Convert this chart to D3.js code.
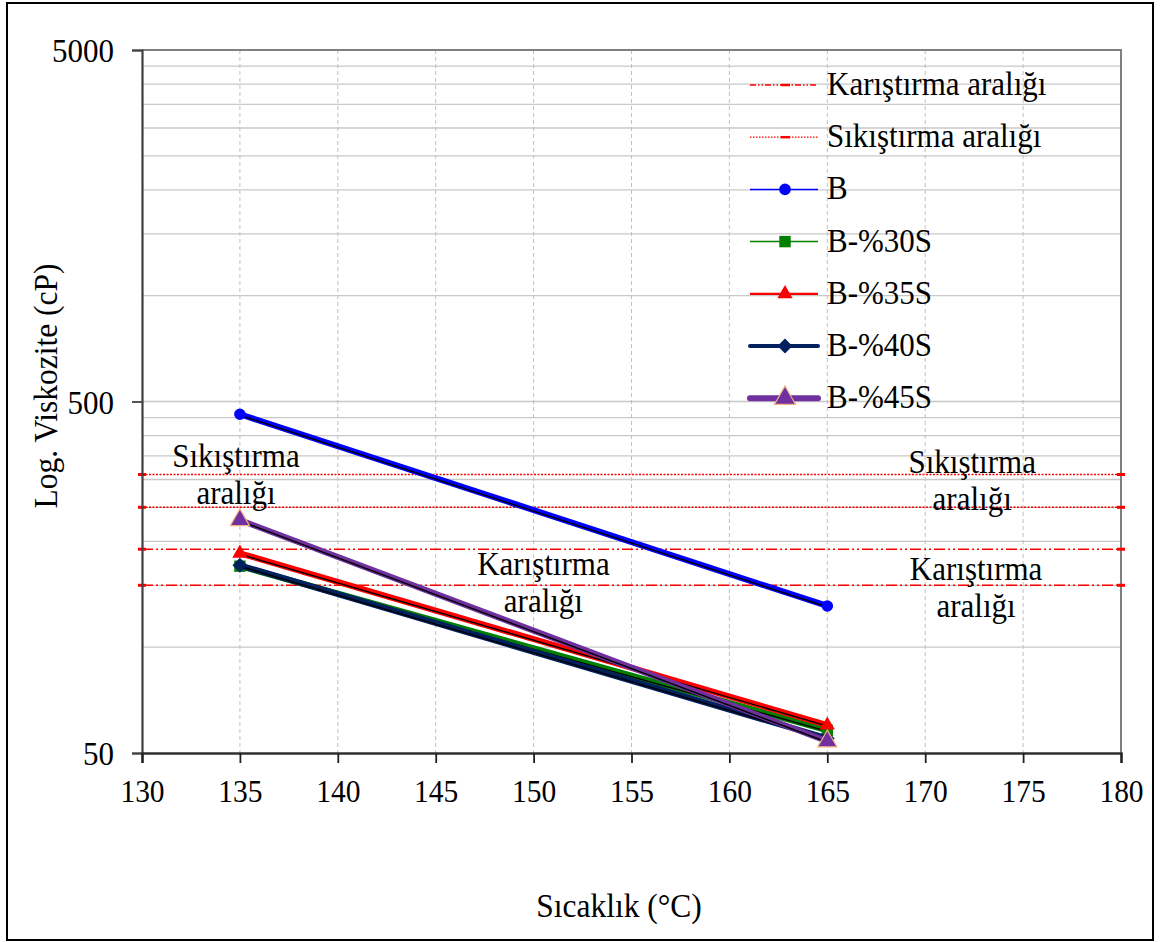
<!DOCTYPE html>
<html>
<head>
<meta charset="utf-8">
<script src="https://cdn.jsdelivr.net/npm/d3@7"></script>
<style>
  body { margin: 0; background: #fff; }
  text { font-family: "Liberation Serif", "Times New Roman", serif; fill: #000; }
</style>
</head>
<body>
<svg id="chart" width="1161" height="942"></svg>
<script>
// data
const temps = [135, 165];
const seriesNames = ["B", "B-%30S", "B-%35S", "B-%40S", "B-%45S"];
const valB = [460, 131];
const val30S = [170, 58];
const val35S = [185, 60];
const val40S = [171, 55];
const val45S = [230, 54];

// range lines (cP)
const rangeX = [130, 180];
const mixRange = [150, 190];    // Karıştırma aralığı
const compRange = [250, 310];   // Sıkıştırma aralığı

const xTicks = [130, 135, 140, 145, 150, 155, 160, 165, 170, 175, 180];
const yTicks = [50, 500, 5000];
const yGrid = [100, 150, 200, 250, 300, 350, 400, 450, 500,
               1000, 1500, 2000, 2500, 3000, 3500, 4000, 4500];

const margin = { left: 142, right: 1121, top: 50, bottom: 753 };
const stretch = 1.1;   // text in the picture is a bit taller than wide

const svg = d3.select("#chart");

const x = d3.scaleLinear().domain([130, 180]).range([margin.left, margin.right]);
const y = d3.scaleLog().domain([50, 5000]).range([margin.bottom, margin.top]);

// put text at (tx,ty) and stretch it vertically
function place(sel, tx, ty, rot) {
  sel.attr("x", 0).attr("y", 0)
    .attr("transform", `translate(${tx},${ty})${rot ? " rotate(" + rot + ")" : ""} scale(1,${stretch})`);
  return sel;
}

// outer frame
svg.append("rect")
  .attr("x", 7).attr("y", 3).attr("width", 1146).attr("height", 937)
  .attr("fill", "#fff").attr("stroke", "#000").attr("stroke-width", 2);

// horizontal grid
svg.append("g").selectAll("line")
  .data(yGrid)
  .enter().append("line")
  .attr("x1", margin.left).attr("x2", margin.right)
  .attr("y1", d => y(d)).attr("y2", d => y(d))
  .attr("stroke", "#c8c8c8").attr("stroke-width", 1.3);

// vertical grid (dashed)
svg.append("g").selectAll("line")
  .data(xTicks.slice(1, -1))
  .enter().append("line")
  .attr("x1", d => x(d)).attr("x2", d => x(d))
  .attr("y1", margin.top).attr("y2", margin.bottom)
  .attr("stroke", "#c0c0c0").attr("stroke-width", 1)
  .attr("stroke-dasharray", "4,3");

// plot border top / right
svg.append("path")
  .attr("d", `M${margin.left},${margin.top}H${margin.right}V${margin.bottom}`)
  .attr("fill", "none").attr("stroke", "#808080").attr("stroke-width", 2);

// range lines
const rangeStyles = [
  { vals: mixRange, dash: "11,3,2,3,2,3" },
  { vals: compRange, dash: "2,1.5" }
];
rangeStyles.forEach(r => {
  r.vals.forEach(v => {
    svg.append("line")
      .attr("x1", x(rangeX[0])).attr("x2", x(rangeX[1]))
      .attr("y1", y(v)).attr("y2", y(v))
      .attr("stroke", "#ff0000").attr("stroke-width", 1.4)
      .attr("stroke-dasharray", r.dash);
    // dash markers at both ends
    svg.selectAll(null).data(rangeX).enter().append("line")
      .attr("x1", d => x(d) - 4).attr("x2", d => x(d) + 4)
      .attr("y1", y(v)).attr("y2", y(v))
      .attr("stroke", "#ff0000").attr("stroke-width", 3);
  });
});

// axes
const yAxis = d3.axisLeft(y).tickValues(yTicks).tickSize(10).tickFormat(d3.format("d"));
const gy = svg.append("g").attr("transform", `translate(${margin.left},0)`).call(yAxis);
gy.select(".domain").attr("stroke", "#404040").attr("stroke-width", 2.2);
gy.selectAll(".tick line").attr("stroke", "#404040").attr("stroke-width", 1.8);
gy.selectAll(".tick text")
  .each(function () { place(d3.select(this), -28, 0); })
  .attr("dy", "0.34em")
  .style("font-family", "Liberation Serif").style("font-size", "31px").attr("fill", "#000");

const xAxis = d3.axisBottom(x).tickValues(xTicks).tickSize(10).tickFormat(d3.format("d"));
const gx = svg.append("g").attr("transform", `translate(0,${margin.bottom})`).call(xAxis);
gx.select(".domain").attr("stroke", "#303030").attr("stroke-width", 2.4);
gx.selectAll(".tick line").attr("stroke", "#202020").attr("stroke-width", 1.8);
gx.selectAll(".tick text")
  .each(function () { place(d3.select(this), 0, 49); })
  .attr("dy", 0)
  .style("font-family", "Liberation Serif").style("font-size", "29.5px").attr("fill", "#000");

// axis titles
place(svg.append("text"), 619, 917)
  .attr("text-anchor", "middle")
  .style("font-size", "31.5px")
  .text("Sıcaklık  (°C)");

place(svg.append("text"), 57, 386, -90)
  .attr("text-anchor", "middle")
  .style("font-size", "31.5px")
  .text("Log. Viskozite (cP)");

// series
const series = [
  { name: seriesNames[0], vals: valB,   color: "#0000ff", marker: "circle" },
  { name: seriesNames[1], vals: val30S, color: "#008000", marker: "square" },
  { name: seriesNames[2], vals: val35S, color: "#ff0000", marker: "triangle" },
  { name: seriesNames[3], vals: val40S, color: "#002060", marker: "diamond" },
  { name: seriesNames[4], vals: val45S, color: "#7030a0", marker: "triangle", big: true }
];

const line = d3.line().x(d => x(d[0])).y(d => y(d[1]));

function symbolFor(s, scale) {
  const k = scale || 1;
  if (s.marker === "circle") return d3.symbol(d3.symbolCircle, 105 * k)();
  if (s.marker === "square") return d3.symbol(d3.symbolSquare, 130 * k)();
  if (s.marker === "diamond") return d3.symbol(d3.symbolSquare, 110 * k)();
  return d3.symbol(d3.symbolTriangle, (s.big ? 160 : 100) * k)();
}
function markerRot(s) { return s.marker === "diamond" ? " rotate(45)" : ""; }

series.forEach(s => {
  const pts = temps.map((t, i) => [t, s.vals[i]]);
  const g = svg.append("g");
  g.append("path").datum(pts)
    .attr("d", line).attr("fill", "none")
    .attr("stroke", s.color).attr("stroke-width", 6);
  g.append("path").datum(pts)
    .attr("d", line).attr("fill", "none")
    .attr("transform", "translate(0,1)")
    .attr("stroke", "#000").attr("stroke-width", 1.4);
  g.selectAll(".pt").data(pts).enter().append("path")
    .attr("transform", d => `translate(${x(d[0])},${y(d[1])})${markerRot(s)}`)
    .attr("d", symbolFor(s))
    .attr("fill", s.color)
    .attr("stroke", s.big ? "#f4b183" : "none").attr("stroke-width", 1.2);
});

// in-plot labels
const notes = [
  { lines: ["Sıkıştırma", "aralığı"], tx: 134.8, tv: 325 },
  { lines: ["Karıştırma", "aralığı"], tx: 150.5, tv: 160.5 },
  { lines: ["Sıkıştırma", "aralığı"], tx: 172.4, tv: 314 },
  { lines: ["Karıştırma", "aralığı"], tx: 172.6, tv: 155.5 }
];
notes.forEach(n => {
  const t = place(svg.append("text"), x(n.tx), y(n.tv))
    .attr("text-anchor", "middle")
    .style("font-size", "31px");
  n.lines.forEach((l, i) => {
    t.append("tspan").attr("x", 0).attr("dy", i === 0 ? 0 : 37 / stretch).text(l);
  });
});

// legend
const legendItems = [
  { name: "Karıştırma aralığı", color: "#ff0000", width: 1.3, dash: "6,2,1.5,2,1.5,2", tick: true },
  { name: "Sıkıştırma aralığı", color: "#ff0000", width: 1.3, dash: "1.5,1.5", tick: true },
  { name: series[0].name, color: series[0].color, width: 1.5, s: series[0] },
  { name: series[1].name, color: series[1].color, width: 1.5, s: series[1] },
  { name: series[2].name, color: series[2].color, width: 2.2, s: series[2] },
  { name: series[3].name, color: series[3].color, width: 4, s: series[3] },
  { name: series[4].name, color: series[4].color, width: 6, s: series[4] }
];
const lg = svg.append("g").attr("transform", "translate(750,85)");
legendItems.forEach((it, i) => {
  const row = lg.append("g").attr("transform", `translate(0,${i * 52.2})`);
  row.append("line")
    .attr("x1", 0).attr("x2", 68).attr("y1", 0).attr("y2", 0)
    .attr("stroke", it.color).attr("stroke-width", it.width)
    .attr("stroke-linecap", it.width > 3 ? "round" : "butt")
    .attr("stroke-dasharray", it.dash || null);
  if (it.tick) {
    row.append("line").attr("x1", 31).attr("x2", 40).attr("y1", 0).attr("y2", 0)
      .attr("stroke", it.color).attr("stroke-width", 2.5);
  }
  if (it.s) {
    row.append("path")
      .attr("transform", `translate(35,0)${markerRot(it.s)}`)
      .attr("d", symbolFor(it.s, it.s.big ? 1.2 : 1))
      .attr("fill", it.s.color)
      .attr("stroke", it.s.big ? "#f4b183" : "none").attr("stroke-width", 1.2);
  }
  place(row.append("text"), 77, 10)
    .style("font-size", "31px")
    .text(it.name);
});
</script>
</body>
</html>
